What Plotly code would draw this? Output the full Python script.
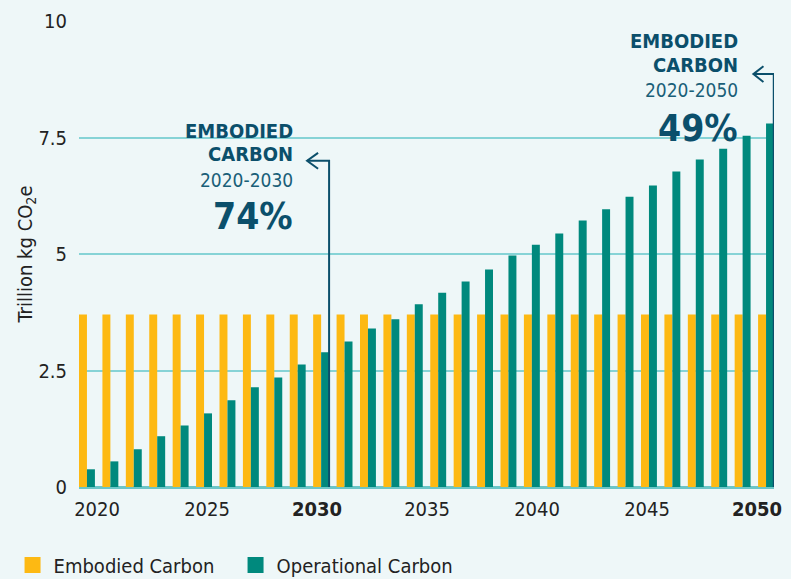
import plotly.graph_objects as go

years = list(range(2020, 2050))
embodied = [3.7] * 30
operational = [0.38, 0.55, 0.81, 1.09, 1.32, 1.58, 1.86, 2.14, 2.35, 2.63,
               2.89, 3.12, 3.40, 3.60, 3.92, 4.17, 4.41, 4.67, 4.97, 5.20,
               5.44, 5.72, 5.96, 6.23, 6.47, 6.77, 7.03, 7.26, 7.54, 7.80]
tick_years = [2020, 2025, 2030, 2035, 2040, 2045, 2050]
tick_text = ["2020", "2025", "<b>2030</b>", "2035", "2040", "2045", "<b>2050</b>"]
y_ticks = [0, 2.5, 5, 7.5, 10]
y_ticktext = ["0", "2.5", "5", "7.5", "10"]

YELLOW = "#FDB913"
TEAL = "#00897D"
DARK = "#0B4F6B"
BG = "#EEF7F8"
GRID = "#86D3D6"
FONT = "DejaVu Sans Condensed, Roboto, sans-serif"

fig = go.Figure()
fig.add_trace(go.Bar(x=years, y=embodied, name="Embodied Carbon", marker_color=YELLOW,
                     marker_line_width=0, showlegend=False))
fig.add_trace(go.Bar(x=years, y=operational, name="Operational Carbon", marker_color=TEAL,
                     marker_line_width=0, showlegend=False))
# legend entries
fig.add_trace(go.Scatter(x=[None], y=[None], mode="markers", name="Embodied Carbon",
                         marker=dict(symbol="square", size=16, color=YELLOW)))
fig.add_trace(go.Scatter(x=[None], y=[None], mode="markers", name="Operational Carbon",
                         marker=dict(symbol="square", size=16, color=TEAL)))
# label axis trace (invisible)
fig.add_trace(go.Scatter(x=tick_years, y=[None] * len(tick_years), xaxis="x2",
                         mode="markers", showlegend=False, hoverinfo="skip"))

fig.update_layout(
    width=791, height=579,
    margin=dict(l=79, r=17, t=21, b=92, autoexpand=False),
    paper_bgcolor=BG, plot_bgcolor=BG,
    font=dict(family=FONT, size=20, color="#222222"),
    barmode="group", bargap=0.32, bargroupgap=0,
    xaxis=dict(range=[2019.66, 2049.34], showticklabels=False, showgrid=False,
               zeroline=False, ticks="", automargin=False),
    xaxis2=dict(overlaying="x", side="bottom", range=[2019.18, 2050.77],
                tickvals=tick_years, ticktext=tick_text, showgrid=False,
                zeroline=False, ticks="", ticklabelstandoff=8, automargin=False,
                tickfont=dict(size=20, color="#222222")),
    yaxis=dict(range=[0, 10], tickvals=y_ticks, ticktext=y_ticktext,
               showgrid=True, gridcolor=GRID, gridwidth=1.5,
               zeroline=True, zerolinecolor="#6CC6C8", zerolinewidth=3,
               ticks="", ticklabelstandoff=11, automargin=False,
               tickfont=dict(size=20, color="#222222"),
               title=dict(text="Trillion kg CO<sub>2</sub>e", font=dict(size=20, color="#222222"),
                          standoff=0)),
    legend=dict(orientation="h", x=0.0146, xref="container", xanchor="left",
                y=0.024, yref="container", yanchor="middle",
                font=dict(size=20, color="#222222"), bgcolor="rgba(0,0,0,0)",
                itemwidth=32, entrywidth=176, entrywidthmode="pixels"),
    showlegend=True,
)

def add_block(xp, ys, period, pct):
    fig.add_annotation(xref="paper", yref="paper", x=xp, y=ys[0], xanchor="right", yanchor="middle",
                       text="<b>EMBODIED</b>", showarrow=False,
                       font=dict(size=20, color=DARK))
    fig.add_annotation(xref="paper", yref="paper", x=xp, y=ys[1], xanchor="right", yanchor="middle",
                       text="<b>CARBON</b>", showarrow=False,
                       font=dict(size=20, color=DARK))
    fig.add_annotation(xref="paper", yref="paper", x=xp, y=ys[2], xanchor="right", yanchor="middle",
                       text=period, showarrow=False, font=dict(size=19, color="#1A5F78"))
    fig.add_annotation(xref="paper", yref="paper", x=xp, y=ys[3], xanchor="right", yanchor="middle",
                       text="<b>" + pct + "</b>", showarrow=False,
                       font=dict(size=37, color=DARK))

add_block(0.3108, [0.764, 0.7146, 0.659, 0.5815], "2020-2030", "74%")
add_block(0.951, [0.958, 0.9056, 0.853, 0.769], "2020-2050", "49%")

def add_arrow(xv, ytop, xtip, xarm, dy):
    fig.add_shape(type="path", xref="x", yref="y",
                  path=f"M {xv},0 L {xv},{ytop} L {xtip},{ytop}",
                  line=dict(color=DARK, width=2))
    fig.add_shape(type="path", xref="x", yref="y",
                  path=f"M {xarm},{ytop + dy} L {xtip},{ytop} L {xarm},{ytop - dy}",
                  line=dict(color=DARK, width=2))

add_arrow(2030.34, 7.0, 2029.40, 2029.87, 0.17)
add_arrow(2049.33, 8.86, 2048.46, 2048.89, 0.17)

fig.write_html("out.html", config={"displayModeBar": False},
               post_script="document.body.style.margin='0';document.body.style.overflow='hidden';")
